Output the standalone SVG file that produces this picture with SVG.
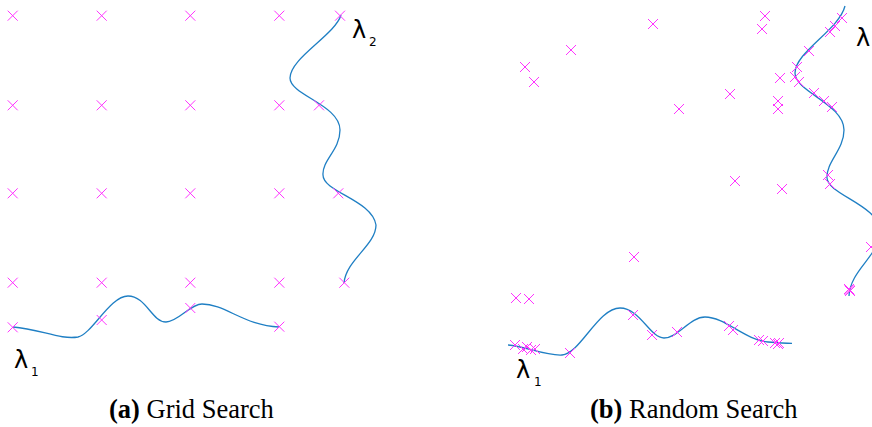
<svg xmlns="http://www.w3.org/2000/svg" xmlns:xlink="http://www.w3.org/1999/xlink" width="872" height="427" viewBox="0 0 872 427">
<style>
.x{stroke:#ff33ff;stroke-width:1;fill:none}
.c{stroke:#1f7fc4;stroke-width:1.3;fill:none}
.lam{font-family:"DejaVu Sans",sans-serif;font-size:24px;fill:#000}
.sub{font-family:"DejaVu Sans",sans-serif;font-size:12px;fill:#000}
.cap{font-family:"Liberation Serif",serif;font-size:26.5px;fill:#000}
</style>
<defs>
<path id="m" class="x" d="M-5,-5L5,5M-5,5L5,-5"/>
</defs>
<rect width="872" height="427" fill="#fff"/>
<g id="grid-search">
<g id="grid-curves">
<path class="c" d="M13,327 C40,329 60,340 78,337 C92,334 110,296 128,296 C146,296 152,322 166,322 C178,322 190,304 202,304 C225,304 245,326 279,327"/>
<path class="c" d="M341,15 C335,35 290,58 290,78 C290,95 340,105 340,130 C340,150 322,160 323,175 C323,192 372,200 376,225 C376,245 346,260 344,283"/>
</g>
<g id="grid-points">
<use xlink:href="#m" x="12.7" y="15.7"/><use xlink:href="#m" x="101.7" y="15.7"/><use xlink:href="#m" x="190.3" y="15.7"/><use xlink:href="#m" x="279.3" y="15.7"/><use xlink:href="#m" x="340" y="15.7"/>
<use xlink:href="#m" x="12.7" y="105.3"/><use xlink:href="#m" x="101.7" y="105.3"/><use xlink:href="#m" x="190.3" y="105.3"/><use xlink:href="#m" x="279.3" y="105.3"/><use xlink:href="#m" x="319" y="105.3"/>
<use xlink:href="#m" x="12.7" y="193.3"/><use xlink:href="#m" x="101.7" y="193.3"/><use xlink:href="#m" x="190.3" y="193.3"/><use xlink:href="#m" x="279.3" y="193.3"/><use xlink:href="#m" x="338.3" y="193.3"/>
<use xlink:href="#m" x="12.7" y="282.7"/><use xlink:href="#m" x="101.7" y="282.7"/><use xlink:href="#m" x="190.3" y="282.7"/><use xlink:href="#m" x="279.3" y="282.7"/><use xlink:href="#m" x="344.3" y="282.7"/>
<use xlink:href="#m" x="12.7" y="327.3"/><use xlink:href="#m" x="101.7" y="320"/><use xlink:href="#m" x="190.3" y="308"/><use xlink:href="#m" x="279.3" y="326.7"/>
</g>
<g id="grid-labels">
<text class="lam" x="352" y="38">λ</text><text class="sub" x="369" y="46">2</text>
<text class="lam" x="14" y="368">λ</text><text class="sub" x="31" y="376">1</text>
<text class="cap" x="109" y="418"><tspan font-weight="bold">(a)</tspan> Grid Search</text>
</g>
</g>
<g id="random-search">
<g id="random-curves">
<path class="c" d="M508,345 C525,346 545,356 562,355 C580,354 598,308 620,308 C640,308 650,338 664,338 C678,338 690,317 705,317 C725,317 745,340 768,342 C780,343 786,343.3 792,343.3"/>
<path class="c" d="M845,6 C839,30 795,52 795,73 C795,92 844,104 844,130 C844,150 826,162 827,178 C828,195 880,205 880,232 C880,255 850,270 849,296"/>
</g>
<g id="random-points">
<use xlink:href="#m" x="653" y="24"/><use xlink:href="#m" x="571" y="50"/><use xlink:href="#m" x="525" y="67"/><use xlink:href="#m" x="534" y="82"/><use xlink:href="#m" x="679" y="109"/>
<use xlink:href="#m" x="765" y="16"/><use xlink:href="#m" x="762" y="29"/><use xlink:href="#m" x="842" y="18"/><use xlink:href="#m" x="835" y="26"/><use xlink:href="#m" x="830" y="32"/>
<use xlink:href="#m" x="809" y="51"/><use xlink:href="#m" x="797" y="67"/><use xlink:href="#m" x="780" y="78"/><use xlink:href="#m" x="795" y="77"/><use xlink:href="#m" x="799" y="82"/>
<use xlink:href="#m" x="730" y="94"/><use xlink:href="#m" x="778" y="101"/><use xlink:href="#m" x="778" y="109"/><use xlink:href="#m" x="814" y="93"/><use xlink:href="#m" x="824" y="101"/><use xlink:href="#m" x="832" y="107"/>
<use xlink:href="#m" x="735" y="181"/><use xlink:href="#m" x="782" y="189"/><use xlink:href="#m" x="828" y="175"/><use xlink:href="#m" x="830" y="184"/>
<use xlink:href="#m" x="634" y="257"/><use xlink:href="#m" x="516" y="298"/><use xlink:href="#m" x="529" y="299"/><use xlink:href="#m" x="871" y="247"/>
<use xlink:href="#m" x="849" y="289"/><use xlink:href="#m" x="850" y="291"/><use xlink:href="#m" x="849.5" y="290"/>
<use xlink:href="#m" x="515" y="345"/><use xlink:href="#m" x="523" y="349"/><use xlink:href="#m" x="527" y="347"/><use xlink:href="#m" x="531" y="350"/><use xlink:href="#m" x="535" y="349"/>
<use xlink:href="#m" x="570" y="353"/><use xlink:href="#m" x="633" y="315"/><use xlink:href="#m" x="652" y="335"/><use xlink:href="#m" x="677" y="332"/>
<use xlink:href="#m" x="729" y="326"/><use xlink:href="#m" x="733" y="330"/><use xlink:href="#m" x="759" y="340"/><use xlink:href="#m" x="763" y="341"/>
<use xlink:href="#m" x="775" y="343"/><use xlink:href="#m" x="779" y="343"/><use xlink:href="#m" x="778" y="344"/>
</g>
<g id="random-labels">
<text class="lam" x="856" y="46">λ</text>
<text class="lam" x="516" y="378">λ</text><text class="sub" x="534" y="386">1</text>
<text class="cap" x="590" y="418"><tspan font-weight="bold">(b)</tspan> Random Search</text>
</g>
</g>
</svg>
